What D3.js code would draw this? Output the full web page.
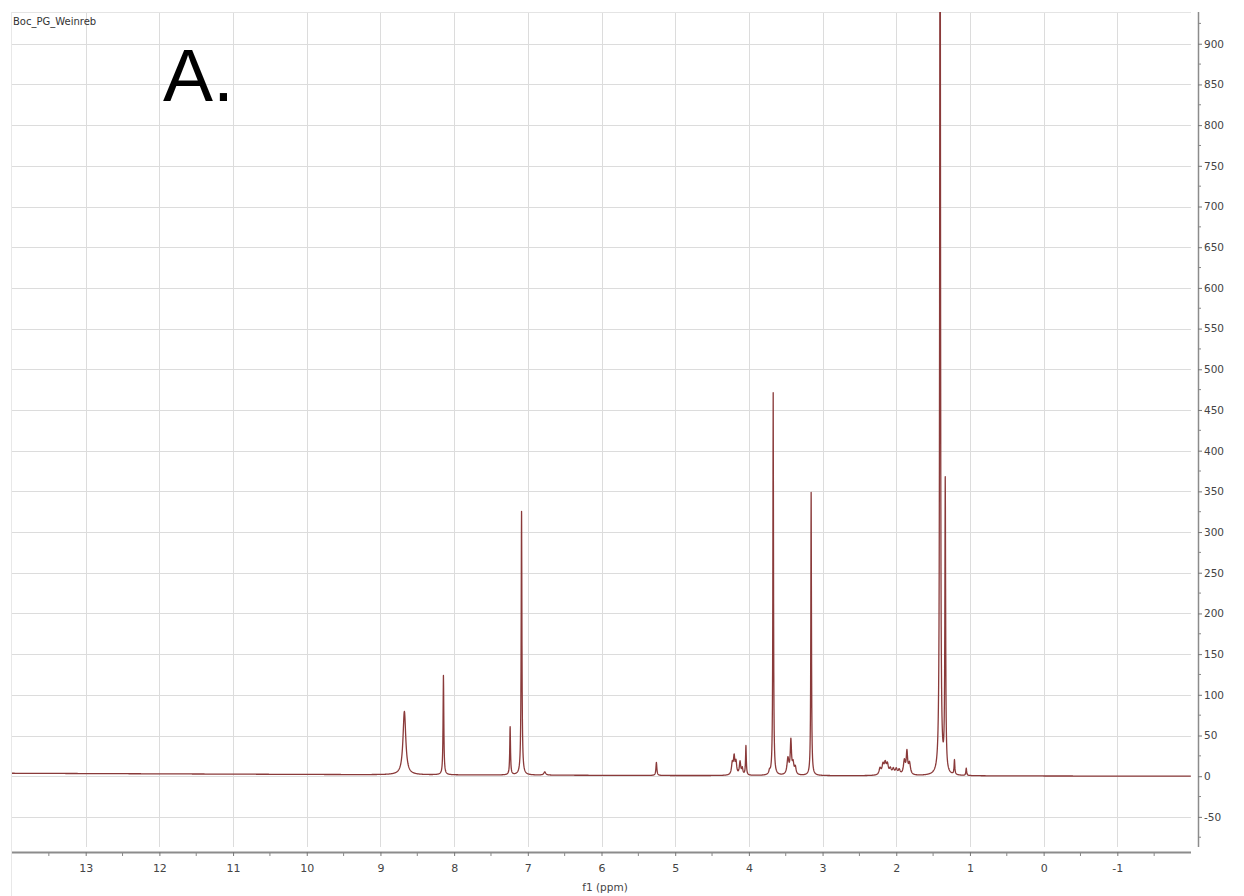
<!DOCTYPE html>
<html>
<head>
<meta charset="utf-8">
<script src="https://cdn.jsdelivr.net/npm/d3@7"></script>
<style>
  html, body { margin: 0; padding: 0; background: #fff; }
  svg { display: block; }
</style>
</head>
<body>
<svg id="chart" width="1244" height="896"></svg>
<script>
// ---- data ----
const title = "Boc_PG_Weinreb";
const panelLabel = "A.";
const xLabel = "f1 (ppm)";
const xTickValues = [13, 12, 11, 10, 9, 8, 7, 6, 5, 4, 3, 2, 1, 0, -1];
const yTickValues = [-50, 0, 50, 100, 150, 200, 250, 300, 350, 400, 450, 500, 550, 600, 650, 700, 750, 800, 850, 900];
// peak list: chemical shift (ppm), intensity, line width (ppm, FWHM)
const peakPpm    = [8.675, 8.145, 7.24, 7.085, 6.77, 5.255,
                    4.225, 4.20, 4.175, 4.12, 4.09, 4.04,
                    3.72, 3.67,
                    3.47, 3.43, 3.40, 3.37,
                    3.155,
                    2.22, 2.18, 2.15, 2.12, 2.08, 2.04, 2.00, 1.96,
                    1.89, 1.855, 1.82,
                    1.405, 1.335, 1.21, 1.05];
const peakHeight = [78, 122, 59, 324, 4, 16,
                    14, 21, 15, 16, 8, 36,
                    4, 470,
                    20, 41, 13, 9,
                    348,
                    8, 12, 13, 12, 7, 7, 7, 6,
                    17, 27, 14,
                    1300, 358, 18, 9];
const peakWidth  = [0.045, 0.012, 0.012, 0.012, 0.03, 0.015,
                    0.025, 0.022, 0.022, 0.022, 0.02, 0.012,
                    0.02, 0.01,
                    0.03, 0.02, 0.025, 0.025,
                    0.01,
                    0.03, 0.03, 0.03, 0.03, 0.03, 0.03, 0.03, 0.03,
                    0.03, 0.022, 0.03,
                    0.012, 0.012, 0.012, 0.012];
// slight baseline drift read at a few shifts
const baselinePpm = [14, 9, 5, -2];
const baselineVal = [3.6, 1.8, 0.8, 0.0];

// ---- layout ----
const plotL = 12, plotR = 1191, plotT = 12, plotB = 847;
const axisY = 852, yAxisX = 1198;

const svg = d3.select("#chart");
const x = d3.scaleLinear().domain([14, -2]).range([plotL, plotR]);
const y = d3.scaleLinear().domain([-87, 939]).range([plotB, plotT]);
const base = d3.scaleLinear().domain(baselinePpm).range(baselineVal);

const font = "'DejaVu Sans', Tahoma, sans-serif";

// grid
const grid = svg.append("g");
grid.selectAll("line.v").data(xTickValues).join("line")
  .attr("x1", d => Math.round(x(d)) + 0.5).attr("x2", d => Math.round(x(d)) + 0.5)
  .attr("y1", plotT).attr("y2", plotB)
  .attr("stroke", "#dcdcdc").attr("stroke-width", 1);
grid.selectAll("line.h").data(yTickValues).join("line")
  .attr("x1", plotL).attr("x2", plotR)
  .attr("y1", d => Math.round(y(d)) + 0.5).attr("y2", d => Math.round(y(d)) + 0.5)
  .attr("stroke", "#dcdcdc").attr("stroke-width", 1);
grid.append("line").attr("x1", plotL).attr("x2", plotR).attr("y1", plotT + 0.5).attr("y2", plotT + 0.5)
  .attr("stroke", "#e4e4e4");
svg.append("line").attr("x1", plotL - 0.5).attr("x2", plotL - 0.5).attr("y1", plotT).attr("y2", 896)
  .attr("stroke", "#e8e8e8");

// spectrum
function intensity(p) {
  let s = base(p);
  for (let i = 0; i < peakPpm.length; i++) {
    const t = 2 * (p - peakPpm[i]) / peakWidth[i];
    s += peakHeight[i] / (1 + t * t);
  }
  return s;
}
let samples = d3.range(plotL, plotR, 0.2).map(px => x.invert(px));
samples = samples.concat(peakPpm).sort((a, b) => b - a);
const pts = samples.map(p => [p, intensity(p)]);

svg.append("defs").append("clipPath").attr("id", "clip")
  .append("rect").attr("x", plotL).attr("y", plotT).attr("width", plotR - plotL).attr("height", plotB - plotT);

const line = d3.line().x(d => x(d[0])).y(d => y(d[1]));
svg.append("path").datum(pts)
  .attr("clip-path", "url(#clip)")
  .attr("d", line)
  .attr("fill", "none")
  .attr("stroke", "#8a3a3a")
  .attr("stroke-width", 1.3)
  .attr("stroke-linejoin", "round");

// x axis
const xAxis = d3.axisBottom(x).tickValues(xTickValues).tickSize(4).tickPadding(8)
  .tickFormat(d => d3.format("d")(d).replace("\u2212", "-"));
const gx = svg.append("g").attr("transform", `translate(0,${axisY})`).call(xAxis);
gx.select(".domain").attr("d", `M${plotL},0.5H${plotR}`).attr("stroke", "#8c8c8c").attr("stroke-width", 2);
gx.selectAll(".tick line").attr("stroke", "#777");
gx.selectAll(".tick text").attr("font-family", font).attr("font-size", 11).attr("fill", "#444");
const xMinor = d3.range(-1.5, 14, 1);
gx.selectAll("line.minor").data(xMinor).join("line").attr("class", "minor")
  .attr("x1", d => x(d)).attr("x2", d => x(d)).attr("y1", 1).attr("y2", 4)
  .attr("stroke", "#888");
svg.append("text").attr("x", 605).attr("y", 891).attr("text-anchor", "middle")
  .attr("font-family", font).attr("font-size", 10.5).attr("fill", "#444").text(xLabel);

// y axis
const yAxis = d3.axisRight(y).tickValues(yTickValues).tickSize(4).tickPadding(2)
  .tickFormat(d => d3.format("d")(d).replace("\u2212", "-"));
const gy = svg.append("g").attr("transform", `translate(${yAxisX},0)`).call(yAxis);
gy.select(".domain").attr("d", `M0.5,${plotT}V${plotB}`).attr("stroke", "#8c8c8c").attr("stroke-width", 1.5);
gy.selectAll(".tick line").attr("stroke", "#777");
gy.selectAll(".tick text").attr("font-family", font).attr("font-size", 10.5).attr("fill", "#444");
const yMinor = d3.range(-75, 939, 50);
gy.selectAll("line.minor").data(yMinor).join("line").attr("class", "minor")
  .attr("x1", 0).attr("x2", 3).attr("y1", d => y(d)).attr("y2", d => y(d))
  .attr("stroke", "#888");

// titles
svg.append("text").attr("x", 13).attr("y", 25)
  .attr("font-family", font).attr("font-size", 10).attr("fill", "#333").text(title);
svg.append("text").attr("x", 163).attr("y", 101)
  .attr("font-family", "'Liberation Sans', Arial, sans-serif").attr("font-size", 75).attr("fill", "#000").text(panelLabel);
</script>
</body>
</html>
